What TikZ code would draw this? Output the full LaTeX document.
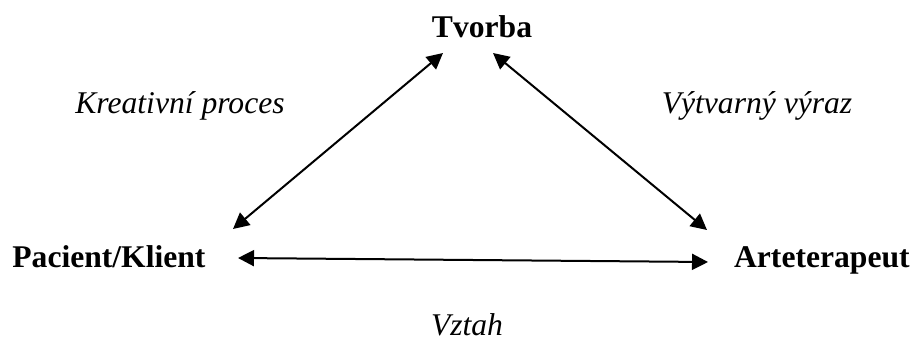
\documentclass[tikz,border=0pt]{standalone}
\usepackage{fontspec}
\setmainfont{Liberation Serif}
\usetikzlibrary{arrows.meta}
\tikzset{
  lbl/.style={inner sep=0pt, font=\fontsize{15.8}{19}\selectfont\bfseries},
  rel/.style={inner sep=0pt, font=\fontsize{15.8}{19}\selectfont\itshape},
  link/.style={line width=1pt, {Triangle[length=8pt,width=8pt]}-{Triangle[length=8pt,width=8pt]}}
}
\begin{document}
\begin{tikzpicture}[x=0.5pt,y=-0.5pt]
  \useasboundingbox (0,0) rectangle (913,347);
  % corner labels
  \node[lbl, anchor=base] (tv) at (482,38) {Tvorba};
  \node[lbl, anchor=base west] (pk) at (12,267) {Pacient/Klient};
  \node[lbl, anchor=base east] (at) at (910,267) {Arteterapeut};
  % relation labels
  \node[rel, anchor=base] (kp) at (180,114) {Kreativní proces};
  \node[rel, anchor=base] (vv) at (757,114) {Výtvarný výraz};
  \node[rel, anchor=base] (vz) at (467,335) {Vztah};
  % arrow ends
  \coordinate (tvL) at (443,53);
  \coordinate (tvR) at (493,53);
  \coordinate (pkT) at (233,229);
  \coordinate (pkR) at (238,258);
  \coordinate (atT) at (707,230);
  \coordinate (atL) at (708,262);
  % connectors
  \draw[link] (pkT) -- (tvL);
  \draw[link] (tvR) -- (atT);
  \draw[link] (pkR) -- (atL);
\end{tikzpicture}
\end{document}
